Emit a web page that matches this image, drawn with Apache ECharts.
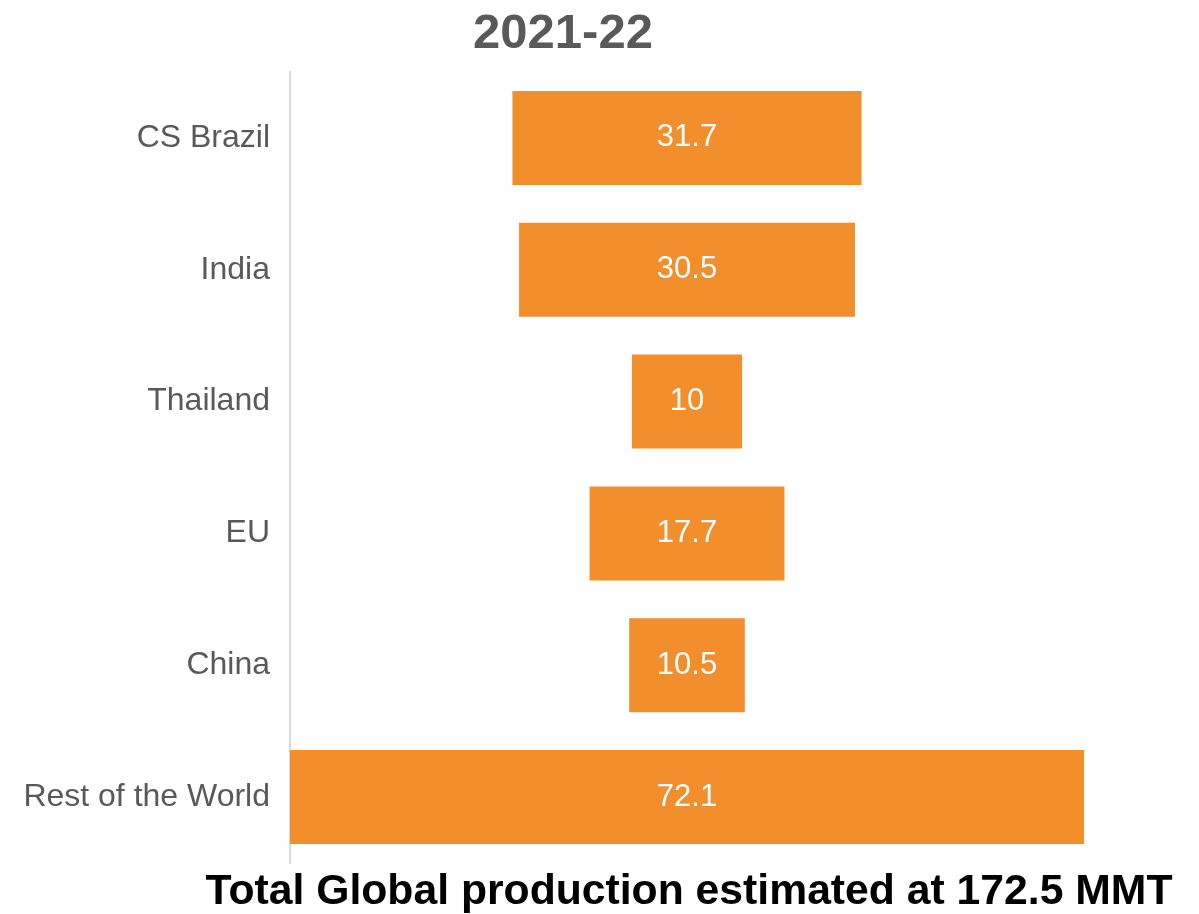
<!DOCTYPE html>
<html>
<head>
<meta charset="utf-8">
<script src="https://cdn.jsdelivr.net/npm/echarts@6/dist/echarts.min.js"></script>
<style>html,body{margin:0;padding:0;background:#fff;}#c{width:1199px;height:914px;}</style>
</head>
<body>
<div id="c"></div>
<script>
const categories = ["CS Brazil", "India", "Thailand", "EU", "China", "Rest of the World"];
const values = [31.7, 30.5, 10, 17.7, 10.5, 72.1];
const titleText = "2021-22";
const footerText = "Total Global production estimated at 172.5 MMT";

const maxVal = Math.max(...values);
const offsets = values.map(v => (maxVal - v) / 2);

const chart = echarts.init(document.getElementById('c'));
chart.setOption({
  backgroundColor: '#ffffff',
  animation: false,
  title: [
    { text: titleText, left: 558, top: 5, textAlign: 'center',
      textStyle: { fontFamily: 'Liberation Sans', fontWeight: 'bold', fontSize: 49, color: '#595959' } },
    { text: footerText, left: 684, top: 866, textAlign: 'center',
      textStyle: { fontFamily: 'Liberation Sans', fontWeight: 'bold', fontSize: 42.7, color: '#000000' } }
  ],
  grid: { left: 290, right: 115, top: 72, bottom: 51, containLabel: false },
  xAxis: { type: 'value', min: 0, max: maxVal, show: false },
  yAxis: {
    type: 'category', data: categories, inverse: true, offset: 2,
    axisLine: { show: true, lineStyle: { color: '#D9D9D9', width: 2 } },
    axisTick: { show: false },
    axisLabel: { fontFamily: 'Liberation Sans', fontSize: 32, color: '#595959', margin: 18, padding: [5, 0, 0, 0] }
  },
  series: [
    { type: 'bar', stack: 's', data: offsets, barWidth: 94, silent: true,
      itemStyle: { color: 'rgba(0,0,0,0)' } },
    { type: 'bar', stack: 's', data: values, barWidth: 94,
      itemStyle: { color: '#F28E2B' },
      label: { show: true, position: 'inside', color: '#ffffff', fontFamily: 'Liberation Sans', fontSize: 31, padding: [5, 0, 0, 0] } }
  ]
});
</script>
</body>
</html>
